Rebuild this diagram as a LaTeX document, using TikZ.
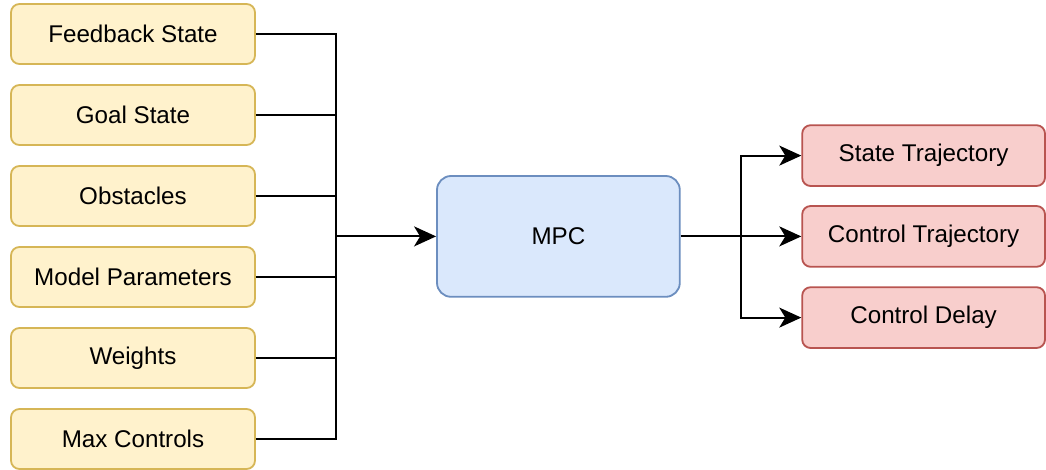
\documentclass[tikz,border=0pt]{standalone}
\usepackage{fontspec}
\setmainfont{Liberation Sans}
\usetikzlibrary{arrows.meta, positioning, calc}
\definecolor{inFill}{HTML}{FFF2CC}
\definecolor{inLine}{HTML}{D6B656}
\definecolor{ctlFill}{HTML}{DAE8FC}
\definecolor{ctlLine}{HTML}{6C8EBF}
\definecolor{outFill}{HTML}{F8CECC}
\definecolor{outLine}{HTML}{B85450}
\tikzset{
  inbox/.style={draw=inLine, line width=1.3pt, fill=inFill, rounded corners=6pt, minimum height=1.5cm, minimum width=6.1cm},
  ctlbox/.style={draw=ctlLine, line width=1.3pt, fill=ctlFill, rounded corners=10pt, minimum height=3.02cm, minimum width=6.07cm},
  outbox/.style={draw=outLine, line width=1.3pt, fill=outFill, rounded corners=6pt, minimum height=1.52cm, minimum width=6.07cm},
  wire/.style={line width=1.4pt},
  arr/.style={-{Stealth[length=0.55cm, width=0.5cm, inset=0.15cm]}, line width=1.4pt},
}

\begin{document}
\begin{tikzpicture}[font=\fontsize{17.2}{20}\selectfont]
    \useasboundingbox (0,0) rectangle (26.15,-11.75);
    % inputs
    \node[inbox] (fb) at (3.325,-0.85) {Feedback State};
    \node[inbox] (gs) at (3.325,-2.875) {Goal State};
    \node[inbox] (ob) at (3.325,-4.9) {Obstacles};
    \node[inbox] (mp) at (3.325,-6.925) {Model Parameters};
    \node[inbox] (wt) at (3.325,-8.95) {Weights};
    \node[inbox] (mc) at (3.325,-10.975) {Max Controls};
    % controller
    \node[ctlbox] (mpc) at (13.96,-5.91) {MPC};
    % outputs
    \node[outbox] (st) at (23.09,-3.89) {State Trajectory};
    \node[outbox] (ct) at (23.09,-5.91) {Control Trajectory};
    \node[outbox] (cd) at (23.09,-7.94) {Control Delay};
    \coordinate (bus) at (8.4,-5.91);
    \coordinate (split) at (18.525,-5.91);
    \foreach \n in {fb,gs,ob,mp,wt,mc}
      \draw[wire] (\n.east) -| (bus);
    \draw[arr] (bus) -- (mpc);
    \draw[wire] (mpc) -- (split);
    \foreach \n in {st,ct,cd}
      \draw[arr] (split) |- (\n.west);
  \end{tikzpicture}
\end{document}
